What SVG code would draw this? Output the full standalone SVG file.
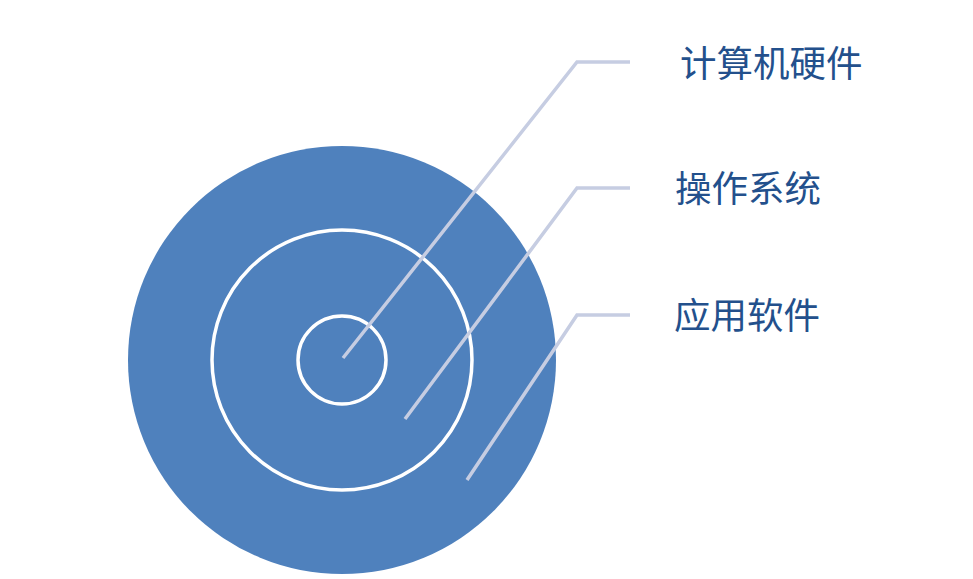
<svg xmlns="http://www.w3.org/2000/svg" width="973" height="579" viewBox="0 0 973 579">
<style>
.ring{fill:none;stroke:#FFFFFF;stroke-width:3.5}
.conn{fill:none;stroke:#C6CDE2;stroke-width:3.5;stroke-linejoin:miter}
.lbl{font-family:"Noto Sans CJK SC","Noto Sans CJK JP",sans-serif;font-size:36.5px;fill:#23508C}
</style>
<rect width="973" height="579" fill="#FFFFFF"/>
<g id="outer-disk"><circle cx="342" cy="360" r="214" fill="#4F81BD"/></g>
<g id="middle-ring"><circle class="ring" cx="342" cy="360" r="130"/></g>
<g id="inner-ring"><circle class="ring" cx="342" cy="360" r="44"/></g>
<g id="connectors">
<polyline class="conn" points="343,358 577,62 630,62"/>
<polyline class="conn" points="405,419 577,188 630,188"/>
<polyline class="conn" points="467,480 577,315 630,315"/>
</g>
<g id="label-hardware"><text class="lbl" x="680" y="77">计算机硬件</text></g>
<g id="label-os"><text class="lbl" x="675" y="202">操作系统</text></g>
<g id="label-app"><text class="lbl" x="674" y="329">应用软件</text></g>
</svg>
